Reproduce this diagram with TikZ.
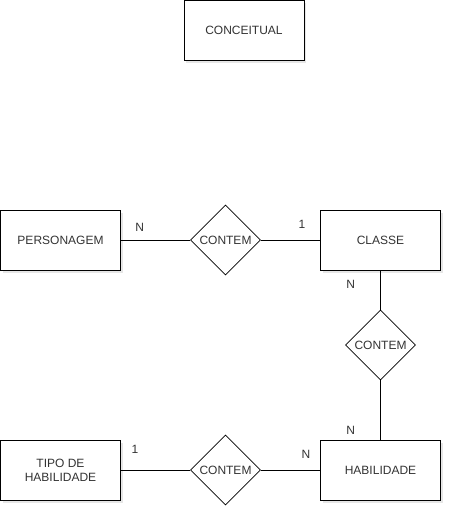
\documentclass[tikz,border=0pt]{standalone}
\usepackage{fontspec}
\setmainfont{Liberation Sans}
\usetikzlibrary{shapes.geometric,shadows}
\tikzset{
  entity/.style={draw=black, fill=white, line width=0.9pt, minimum width=120pt, minimum height=60pt, inner sep=0pt, align=center, font=\fontsize{12pt}{14pt}\selectfont, text=black!80,
    drop shadow={opacity=0.2, shadow xshift=2pt, shadow yshift=-2.5pt}},
  rel/.style={draw=black, fill=white, line width=0.6pt, diamond, minimum width=70pt, minimum height=70pt, inner sep=0pt, font=\fontsize{12pt}{14pt}\selectfont, text=black!80},
  card/.style={font=\fontsize{12pt}{14pt}\selectfont, text=black!80, inner sep=0pt},
  conn/.style={draw=black, line width=0.9pt}
}
\begin{document}
\begin{tikzpicture}[x=1pt,y=-1pt]
\useasboundingbox (0,0) rectangle (452,517);
\node[entity] (conc) at (244,30.5) {CONCEITUAL};
\node[entity] (pers) at (60.5,240) {PERSONAGEM};
\node[entity] (classe) at (380.5,240) {CLASSE};
\node[entity] (tipo) at (60.5,470) {TIPO DE\\HABILIDADE};
\node[entity] (hab) at (380.5,470) {HABILIDADE};
\node[rel] (r1) at (225.5,240) {CONTEM};
\node[rel] (r2) at (380.5,345) {CONTEM};
\node[rel] (r3) at (225.5,470) {CONTEM};
\draw[conn] (pers.east) -- (r1.west);
\draw[conn] (r1.east) -- (classe.west);
\draw[conn] (classe.south) -- (r2.north);
\draw[conn] (r2.south) -- (hab.north);
\draw[conn] (tipo.east) -- (r3.west);
\draw[conn] (r3.east) -- (hab.west);
\node[card] (c1) at (139.7,227.5) {N};
\node[card] (c2) at (302,224) {1};
\node[card] (c3) at (350.7,284) {N};
\node[card] (c4) at (350.7,430) {N};
\node[card] (c5) at (135,449.5) {1};
\node[card] (c6) at (306,454) {N};
\end{tikzpicture}
\end{document}
